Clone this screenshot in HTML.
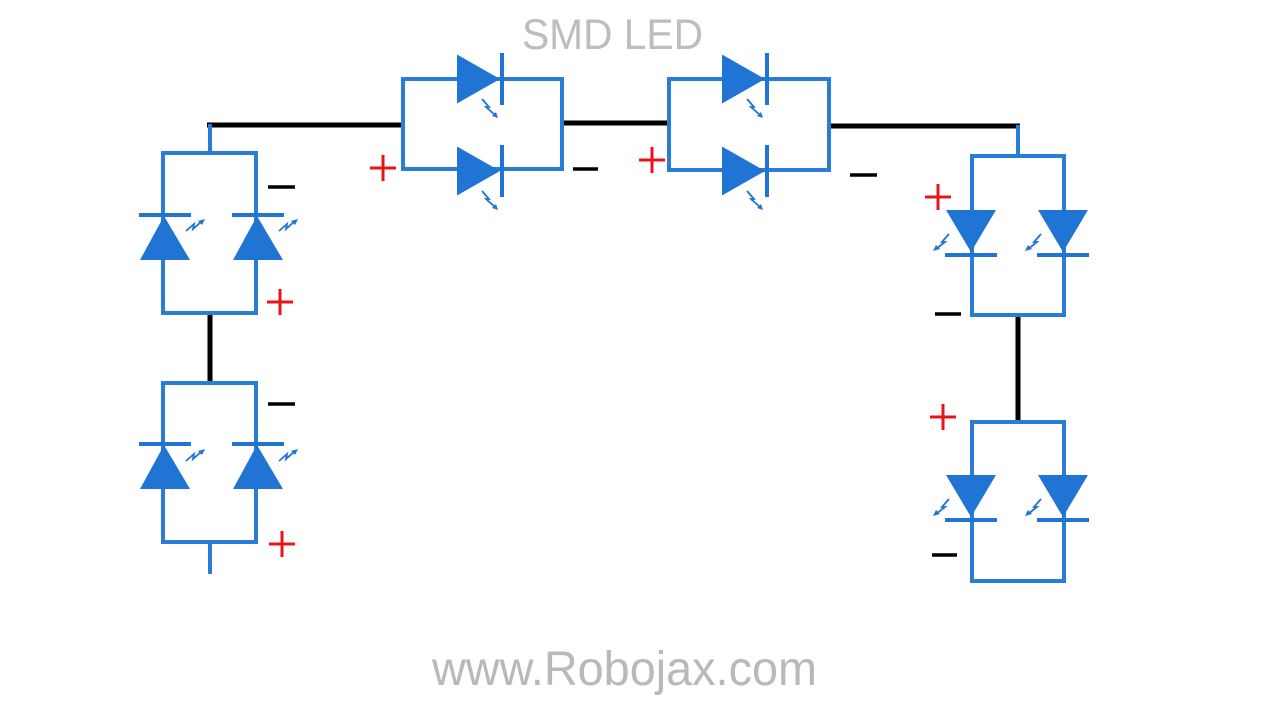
<!DOCTYPE html>
<html>
<head>
<meta charset="utf-8">
<style>
html,body{margin:0;padding:0;background:#fff;}
svg{display:block;}
</style>
</head>
<body>
<svg width="1280" height="720" viewBox="0 0 1280 720" xmlns="http://www.w3.org/2000/svg">
<defs>
  <!-- diode pointing up: apex at 0,0 -->
  <g id="dup">
    <polygon points="0,1 -24,45 26,45" fill="#1f74d4"/>
    <line x1="-25" y1="0" x2="27" y2="0" stroke="#1f74d4" stroke-width="4"/>
  </g>
  <g id="ddown">
    <polygon points="0,-3 -25,-45 25,-45" fill="#1f74d4"/>
    <line x1="-26" y1="0" x2="26" y2="0" stroke="#1f74d4" stroke-width="4"/>
  </g>
  <g id="dright">
    <polygon points="0,0 -43,-24.5 -43,24.5" fill="#1f74d4"/>
    <line x1="2" y1="-26" x2="2" y2="26" stroke="#1f74d4" stroke-width="4"/>
  </g>
  <!-- light arrows -->
  <g id="arrUR">
    <polyline points="0,11 8,4 7,9 16,1" fill="none" stroke="#1f74d4" stroke-width="1.8"/>
    <polygon points="19,-1 12,1 16,5" fill="#1f74d4"/>
  </g>
  <g id="arrDR">
    <polyline points="0,0 7,8 4,8 13,16" fill="none" stroke="#1f74d4" stroke-width="1.8"/>
    <polygon points="16,19 10,17 14,13" fill="#1f74d4"/>
  </g>
  <g id="arrDL">
    <polyline points="15,0 8,8 11,8 2,15" fill="none" stroke="#1f74d4" stroke-width="1.8"/>
    <polygon points="-1,17 2,11 6,15" fill="#1f74d4"/>
  </g>
  <g id="plus">
    <line x1="-13" y1="0" x2="13" y2="0" stroke="#e8141b" stroke-width="3"/>
    <line x1="0" y1="-13" x2="0" y2="13" stroke="#e8141b" stroke-width="3"/>
  </g>
</defs>

<!-- Titles -->
<text x="522" y="49" font-family="Liberation Sans, sans-serif" font-size="43" fill="#bdbdbd" textLength="181" lengthAdjust="spacingAndGlyphs">SMD LED</text>
<text x="432" y="685" font-family="Liberation Sans, sans-serif" font-size="48" fill="#b9b9b9" textLength="385" lengthAdjust="spacingAndGlyphs">www.Robojax.com</text>

<!-- Black connectors -->
<g stroke="#000" stroke-width="5" fill="none">
  <line x1="207" y1="125" x2="404" y2="125"/>
  <line x1="561" y1="123" x2="670" y2="123"/>
  <line x1="828" y1="126" x2="1020" y2="126"/>
  <line x1="210" y1="312" x2="210" y2="384"/>
  <line x1="1018" y1="314" x2="1018" y2="423"/>
</g>

<g stroke="#2a7dd6" stroke-width="4" fill="none">
  <!-- left module 1 -->
  <line x1="210" y1="124" x2="210" y2="153"/>
  <rect x="163" y="153" width="93" height="160"/>
  <!-- left module 2 -->
  <rect x="163" y="383" width="93" height="159"/>
  <line x1="210" y1="542" x2="210" y2="574"/>
  <!-- top A -->
  <rect x="403" y="79" width="159" height="90"/>
  <!-- top B -->
  <rect x="669" y="79" width="160" height="91"/>
  <!-- right module 1 -->
  <line x1="1018" y1="125" x2="1018" y2="156"/>
  <rect x="972" y="156" width="92" height="159"/>
  <!-- right module 2 -->
  <rect x="972" y="422" width="92" height="159"/>
</g>

<!-- Left module 1 diodes -->
<use href="#dup" x="164" y="215"/>
<use href="#dup" x="257" y="215"/>
<use href="#arrUR" x="186" y="220"/>
<use href="#arrUR" x="279" y="220"/>
<!-- Left module 2 diodes -->
<use href="#dup" x="164" y="444"/>
<use href="#dup" x="257" y="444"/>
<use href="#arrUR" x="186" y="450"/>
<use href="#arrUR" x="279" y="450"/>

<!-- Top A -->
<use href="#dright" x="500" y="79"/>
<use href="#dright" x="500" y="171"/>
<use href="#arrDR" x="482" y="99"/>
<use href="#arrDR" x="482" y="191"/>
<!-- Top B -->
<use href="#dright" x="765" y="79"/>
<use href="#dright" x="765" y="171"/>
<use href="#arrDR" x="747" y="99"/>
<use href="#arrDR" x="747" y="191"/>

<!-- Right module 1 -->
<use href="#ddown" x="971" y="255"/>
<use href="#ddown" x="1063" y="255"/>
<use href="#arrDL" x="934" y="234"/>
<use href="#arrDL" x="1026" y="234"/>
<!-- Right module 2 -->
<use href="#ddown" x="971" y="520"/>
<use href="#ddown" x="1063" y="520"/>
<use href="#arrDL" x="934" y="499"/>
<use href="#arrDL" x="1026" y="499"/>

<!-- Plus signs -->
<use href="#plus" x="280" y="302"/>
<use href="#plus" x="282" y="544"/>
<use href="#plus" x="383" y="168"/>
<use href="#plus" x="652" y="160"/>
<use href="#plus" x="938" y="197"/>
<use href="#plus" x="943" y="417"/>

<!-- Minus signs -->
<g stroke="#000" stroke-width="3.5">
  <line x1="268" y1="187" x2="295" y2="187"/>
  <line x1="268" y1="404" x2="295" y2="404"/>
  <line x1="573" y1="169" x2="598" y2="169"/>
  <line x1="850" y1="175" x2="877" y2="175"/>
  <line x1="935" y1="314" x2="961" y2="314"/>
  <line x1="932" y1="555" x2="957" y2="555"/>
</g>
</svg>
</body>
</html>
